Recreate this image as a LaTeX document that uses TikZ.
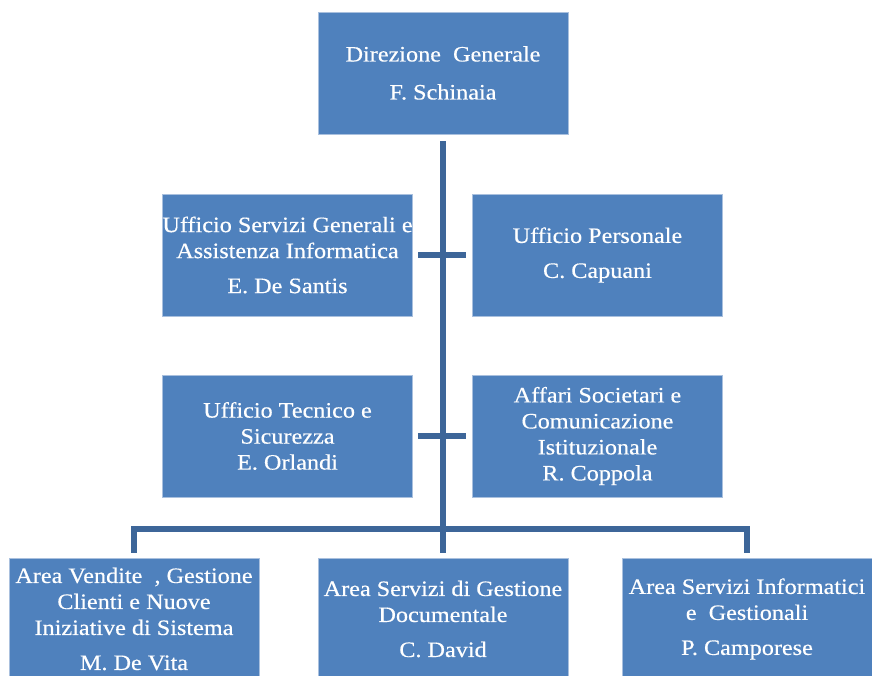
\documentclass[tikz,border=0pt]{standalone}
\usepackage{fontspec}
\setmainfont[FakeStretch=1.1,FakeBold=0.4]{Liberation Serif}
\definecolor{boxblue}{HTML}{4F81BD}
\definecolor{boxedge}{HTML}{A9C0DE}
\definecolor{linkblue}{HTML}{3D6699}
\begin{document}
\begin{tikzpicture}[x=1pt,y=-1pt,
  box/.style={draw=boxedge, fill=boxblue, line width=0.8pt, minimum width=250pt,
    minimum height=122pt, inner sep=0pt, text=white, align=center,
    font=\fontsize{22}{26}\selectfont},
  conn/.style={draw=linkblue, line width=6pt, line join=miter}]
\useasboundingbox (0,0) rectangle (872,675);
\clip (0,0) rectangle (872,675);
\node[box] (dg) at (443,73) {Direzione\ \ Generale\\[12pt]F. Schinaia};
\node[box] (usg) at (287.5,255) {Ufficio Servizi Generali e\\Assistenza Informatica\\[9pt]E. De Santis};
\node[box] (up) at (597.5,255) {Ufficio Personale\\[9pt]C. Capuani};
\node[box] (ut) at (287.5,436) {Ufficio Tecnico e\\Sicurezza\\E. Orlandi};
\node[box] (as) at (597.5,436) {Affari Societari e\\Comunicazione\\Istituzionale\\R. Coppola};
\node[box] (av) at (134,619) {Area Vendite\ \ , Gestione\\Clienti e Nuove\\Iniziative di Sistema\\[9pt]M. De Vita};
\node[box] (ad) at (443,619) {Area Servizi di Gestione\\Documentale\\[9pt]C. David};
\node[box] (ai) at (747,619) {Area Servizi Informatici\\e\ \ Gestionali\\[9pt]P. Camporese};
\coordinate (jb) at (443,529);
\draw[conn, shorten <=7pt] (dg.south) -- (jb);
\draw[conn, shorten <=5pt, shorten >=6pt] (usg.east) -- (up.west);
\draw[conn, shorten <=5pt, shorten >=6pt] (ut.east) -- (as.west);
\draw[conn, shorten <=5pt, shorten >=5pt] (av.north) |- (jb) -| (ai.north);
\draw[conn, shorten >=5pt] (jb) -- (ad.north);
\end{tikzpicture}
\end{document}
